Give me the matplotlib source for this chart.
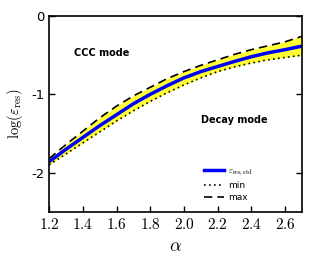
import numpy as np
import matplotlib
matplotlib.use('Agg')
import matplotlib.pyplot as plt

plt.rcParams['mathtext.fontset'] = 'cm'

# values
alpha = [1.2, 1.3, 1.4, 1.5, 1.6, 1.7, 1.8, 1.9, 2.0, 2.1, 2.2, 2.3, 2.4, 2.5, 2.6, 2.7]
eps_std = [-1.86, -1.70, -1.55, -1.40, -1.26, -1.12, -1.00, -0.89, -0.79, -0.71,
           -0.645, -0.58, -0.52, -0.47, -0.43, -0.385]
eps_max = [-1.82, -1.64, -1.47, -1.30, -1.15, -1.02, -0.91, -0.80, -0.71, -0.63,
           -0.56, -0.49, -0.43, -0.38, -0.33, -0.26]
eps_min = [-1.90, -1.76, -1.62, -1.48, -1.34, -1.21, -1.09, -0.98, -0.88, -0.79,
           -0.71, -0.65, -0.60, -0.56, -0.53, -0.50]
xticks = [1.2, 1.4, 1.6, 1.8, 2.0, 2.2, 2.4, 2.6]
yticks = [0, -1, -2]

fig = plt.figure(figsize=(3.11, 2.61), dpi=100)
ax = fig.add_axes([0.158, 0.188, 0.813, 0.751])

ax.fill_between(alpha, eps_min, eps_max, color='#ffff33', lw=0)
ax.plot(alpha, eps_std, color='#0000ff', lw=2.5, label=r'$\varepsilon_{\rm res,std}$')
ax.plot(alpha, eps_min, color='k', lw=1.2, ls=(0, (1, 2)), label='min')
ax.plot(alpha, eps_max, color='k', lw=1.2, ls=(0, (5, 3)), label='max')

ax.set_xlim(1.2, 2.7)
ax.set_ylim(-2.5, 0)
ax.set_xticks(xticks)
ax.set_xticklabels([r'$%.1f$' % v for v in xticks], fontsize=11)
ax.set_yticks(yticks)
ax.set_yticklabels(['0', '-1', '-2'], fontsize=9.5)
ax.tick_params(direction='in', length=4, width=1, right=True, top=False)
for s in ax.spines.values():
    s.set_linewidth(1.2)

ax.set_xlabel(r'$\alpha$', fontsize=13)
ax.set_ylabel(r'$\log(\varepsilon_{\rm res})$', fontsize=10.5)

ax.text(1.35, -0.47, 'CCC mode', fontsize=7, fontweight='bold', va='center')
ax.text(2.1, -1.33, 'Decay mode', fontsize=7, fontweight='bold', va='center')

ax.legend(loc='lower left', bbox_to_anchor=(0.58, 0.01), frameon=False,
          fontsize=6.5, handlelength=2.2, handletextpad=0.5, labelspacing=0.3)

fig.savefig('out.png', dpi=100)
